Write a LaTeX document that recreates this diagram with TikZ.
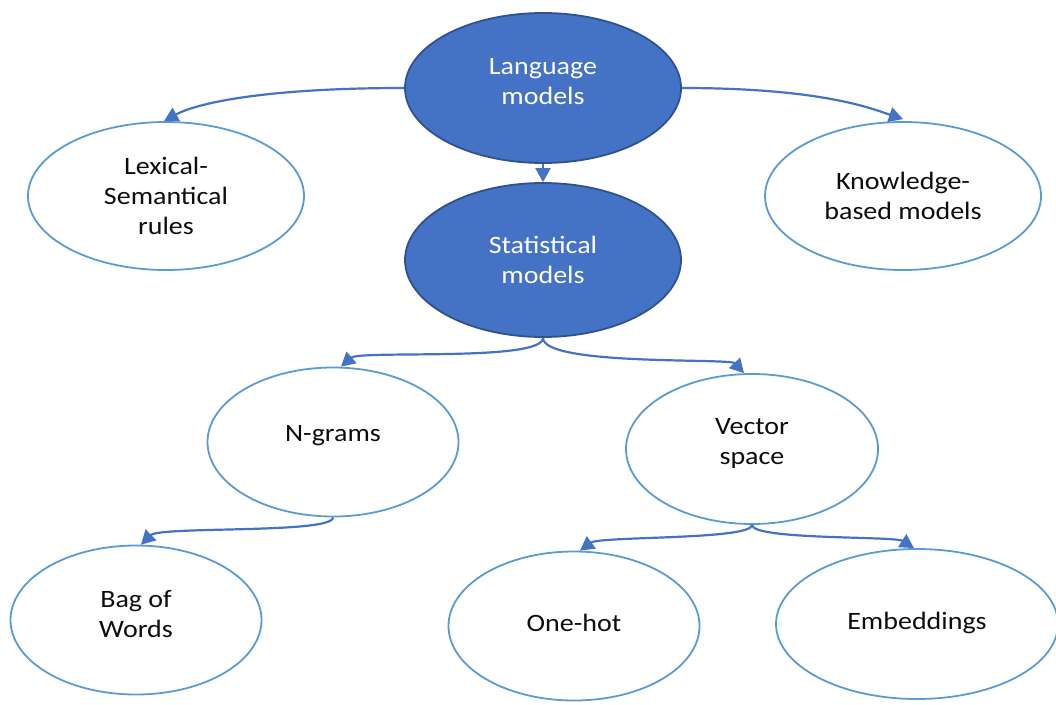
\documentclass[tikz,border=0pt]{standalone}
\usepackage{fontspec}
\setmainfont{Carlito}[FakeStretch=1.12]
\usetikzlibrary{shapes.geometric,arrows.meta}
\definecolor{darkfill}{HTML}{4472C4}
\definecolor{darkrim}{HTML}{2F528F}
\definecolor{lightrim}{HTML}{5B9BD5}
\definecolor{linkcol}{HTML}{4472C4}
\definecolor{txt}{HTML}{0D0D0D}
\tikzset{
  bubble/.style={ellipse, draw=lightrim, line width=1.8pt, fill=white, inner sep=0pt},
  topbubble/.style={bubble, draw=darkrim, fill=darkfill},
  caption/.style={align=center, inner sep=0pt, text=txt,
    font=\fontsize{25}{30}\selectfont},
  topcaption/.style={caption, text=white},
  link/.style={draw=linkcol, line width=2.2pt,
    -{Triangle[length=14pt,width=15pt]}},
}
\begin{document}
\begin{tikzpicture}[x=1pt,y=-1pt]
\useasboundingbox (0,0) rectangle (1056,704);

% ellipses
\node[topbubble, minimum width=276pt, minimum height=150pt] (lang) at (543,88) {};
\node[bubble, minimum width=276pt, minimum height=148pt] (lex) at (166,196) {};
\node[bubble, minimum width=276pt, minimum height=148pt] (know) at (903,196) {};
\node[topbubble, minimum width=276pt, minimum height=154pt] (stat) at (543,260) {};
\node[bubble, minimum width=251pt, minimum height=149pt] (ngram) at (333,442) {};
\node[bubble, minimum width=252pt, minimum height=150pt] (vec) at (752,449) {};
\node[bubble, minimum width=251pt, minimum height=149pt] (bow) at (136,620) {};
\node[bubble, minimum width=251pt, minimum height=149pt] (onehot) at (574,626) {};
\node[bubble, minimum width=282pt, minimum height=150pt] (emb) at (917,624) {};

% captions
\node[topcaption] (lang-t) at (543,81.5) {Language\\models};
\node[caption] (lex-t) at (166,195.5) {Lexical-\\Semantical\\rules};
\node[caption] (know-t) at (903,195.5) {Knowledge-\\based models};
\node[topcaption] (stat-t) at (543,259.5) {Statistical\\models};
\node[caption] (ngram-t) at (333,436) {N-grams};
\node[caption] (vec-t) at (752,443.5) {Vector\\space};
\node[caption] (bow-t) at (136,614.5) {Bag of\\Words};
\node[caption] (onehot-t) at (574,623) {One-hot};
\node[caption] (emb-t) at (917,623) {Embeddings};

% connectors
\draw[link] (lang.west) .. controls (260,88) and (195,104) .. ([xshift=-2pt]lex.north);
\draw[link] (lang.east) .. controls (820,88) and (870,108) .. ([yshift=2pt]know.north);
\draw[link] (lang.south) -- (stat.north);
\draw[link] (stat.south) .. controls (543,362) and (360,350) .. ([xshift=8pt]ngram.north);
\draw[link] (stat.south) .. controls (543,366) and (730,358) .. ([xshift=-8pt]vec.north);
\draw[link] (ngram.south) .. controls (333,534) and (160,526) .. ([xshift=5pt]bow.north);
\draw[link] (vec.south) .. controls (752,540) and (600,536) .. ([xshift=6pt]onehot.north);
\draw[link] (vec.south) .. controls (752,540) and (895,536) .. ([xshift=-3pt]emb.north);
\end{tikzpicture}
\end{document}
